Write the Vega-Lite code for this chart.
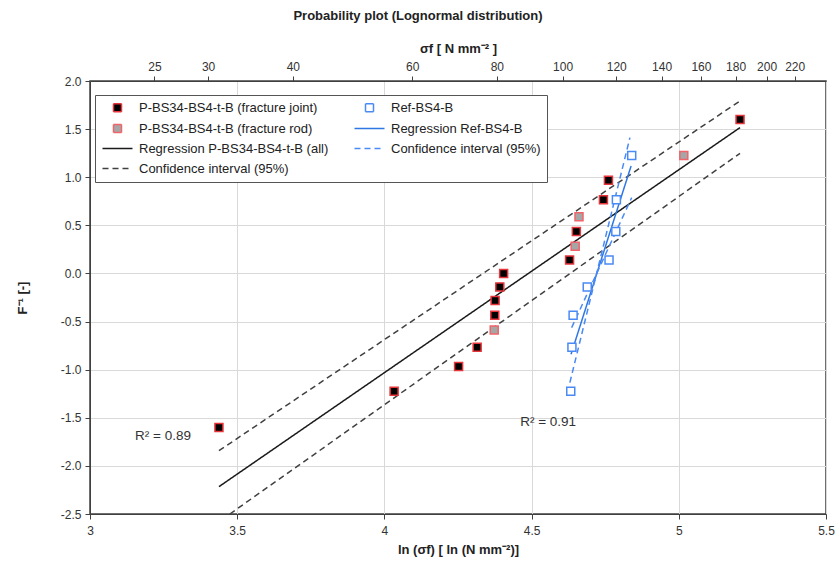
{
  "$schema": "https://vega.github.io/schema/vega-lite/v6.json",
  "width": 736,
  "height": 433,
  "autosize": {"type": "none"},
  "padding": {"left": 90, "top": 81, "right": 11, "bottom": 48},
  "title": {"text": "Probability plot (Lognormal distribution)", "font": "Liberation Sans", "fontSize": 13, "fontWeight": "bold", "color": "#222222", "offset": 19, "dx": -40},
  "config": {
    "font": "Liberation Sans",
    "view": {"stroke": "#404040", "strokeWidth": 1.5},
    "axis": {"labelFont": "Liberation Sans", "labelFontSize": 12, "labelColor": "#333333", "titleFont": "Liberation Sans", "titleFontSize": 13, "titleFontWeight": "bold", "titleColor": "#222222", "tickColor": "#404040", "domainColor": "#404040", "gridColor": "#d9d9d9", "tickSize": 5, "labelFlush": false, "labelOverlap": false},
    "legend": {"orient": "none", "legendX": 5, "legendY": 14, "columns": 2, "strokeColor": "#555555", "fillColor": "#ffffff", "padding": 6, "labelFont": "Liberation Sans", "labelFontSize": 13, "labelColor": "#222222", "labelLimit": 400, "symbolSize": 64, "symbolStrokeWidth": 1.5, "symbolOffset": 10, "labelOffset": 15, "rowPadding": 6, "columnPadding": 22}
  },
  "datasets": {
    "pts": [
      {"x": 3.438, "y": -1.600, "series": "P-BS34-BS4-t-B (fracture joint)"},
      {"x": 4.033, "y": -1.225, "series": "P-BS34-BS4-t-B (fracture joint)"},
      {"x": 4.252, "y": -0.968, "series": "P-BS34-BS4-t-B (fracture joint)"},
      {"x": 4.315, "y": -0.767, "series": "P-BS34-BS4-t-B (fracture joint)"},
      {"x": 4.373, "y": -0.588, "series": "P-BS34-BS4-t-B (fracture rod)"},
      {"x": 4.375, "y": -0.435, "series": "P-BS34-BS4-t-B (fracture joint)"},
      {"x": 4.376, "y": -0.282, "series": "P-BS34-BS4-t-B (fracture joint)"},
      {"x": 4.392, "y": -0.140, "series": "P-BS34-BS4-t-B (fracture joint)"},
      {"x": 4.405, "y": 0.000, "series": "P-BS34-BS4-t-B (fracture joint)"},
      {"x": 4.629, "y": 0.140, "series": "P-BS34-BS4-t-B (fracture joint)"},
      {"x": 4.648, "y": 0.282, "series": "P-BS34-BS4-t-B (fracture rod)"},
      {"x": 4.652, "y": 0.435, "series": "P-BS34-BS4-t-B (fracture joint)"},
      {"x": 4.661, "y": 0.588, "series": "P-BS34-BS4-t-B (fracture rod)"},
      {"x": 4.744, "y": 0.767, "series": "P-BS34-BS4-t-B (fracture joint)"},
      {"x": 4.761, "y": 0.968, "series": "P-BS34-BS4-t-B (fracture joint)"},
      {"x": 5.017, "y": 1.225, "series": "P-BS34-BS4-t-B (fracture rod)"},
      {"x": 5.208, "y": 1.600, "series": "P-BS34-BS4-t-B (fracture joint)"},
      {"x": 4.633, "y": -1.225, "series": "Ref-BS4-B"},
      {"x": 4.637, "y": -0.767, "series": "Ref-BS4-B"},
      {"x": 4.641, "y": -0.435, "series": "Ref-BS4-B"},
      {"x": 4.689, "y": -0.140, "series": "Ref-BS4-B"},
      {"x": 4.763, "y": 0.140, "series": "Ref-BS4-B"},
      {"x": 4.786, "y": 0.435, "series": "Ref-BS4-B"},
      {"x": 4.788, "y": 0.767, "series": "Ref-BS4-B"},
      {"x": 4.840, "y": 1.225, "series": "Ref-BS4-B"}
    ],
    "lines": [
      {"x": 3.438, "y": -2.216, "series": "Regression P-BS34-BS4-t-B (all)", "seg": "a"},
      {"x": 5.208, "y": 1.516, "series": "Regression P-BS34-BS4-t-B (all)", "seg": "a"},
      {"x": 3.438, "y": -1.842, "series": "Confidence interval (95%) ", "seg": "b"},
      {"x": 5.208, "y": 1.793, "series": "Confidence interval (95%) ", "seg": "b"},
      {"x": 3.475, "y": -2.500, "series": "Confidence interval (95%) ", "seg": "c"},
      {"x": 5.208, "y": 1.249, "series": "Confidence interval (95%) ", "seg": "c"},
      {"x": 4.634, "y": -0.840, "series": "Regression Ref-BS4-B", "seg": "d"},
      {"x": 4.838, "y": 1.117, "series": "Regression Ref-BS4-B", "seg": "d"},
      {"x": 4.630, "y": -1.134, "series": "Confidence interval (95%)", "seg": "e"},
      {"x": 4.834, "y": 1.412, "series": "Confidence interval (95%)", "seg": "e"},
      {"x": 4.636, "y": -0.563, "series": "Confidence interval (95%)", "seg": "f"},
      {"x": 4.840, "y": 0.788, "series": "Confidence interval (95%)", "seg": "f"}
    ],
    "labels": [
      {"x": 3.248, "y": -1.69, "text": "R² = 0.89"},
      {"x": 4.556, "y": -1.54, "text": "R² = 0.91"}
    ]
  },
  "encoding": {
    "x": {"field": "x", "type": "quantitative", "scale": {"domain": [3, 5.5], "nice": false, "zero": false},
      "axis": {"orient": "bottom", "values": [3, 3.5, 4, 4.5, 5, 5.5], "format": "~g", "grid": true, "labelPadding": 6, "titlePadding": 7, "title": "ln (σf)  [ ln (N mm⁻²)]"}},
    "y": {"field": "y", "type": "quantitative", "scale": {"domain": [-2.5, 2], "nice": false, "zero": false},
      "axis": {"values": [-2.5, -2, -1.5, -1, -0.5, 0, 0.5, 1, 1.5, 2], "labelExpr": "replace(format(datum.value, '.1f'), '−', '-')", "grid": true, "labelPadding": 4, "titlePadding": 31, "title": "F⁻¹ [-]"}}
  },
  "layer": [
    {
      "data": {"name": "lines"},
      "mark": {"type": "line", "strokeWidth": 1.5, "clip": true},
      "encoding": {
        "x": {"field": "x", "type": "quantitative", "scale": {"domain": [3, 5.5], "nice": false, "zero": false},
          "axis": {"orient": "top", "values": [3.2189, 3.4012, 3.6889, 4.0943, 4.382, 4.6052, 4.7875, 4.9416, 5.0752, 5.193, 5.2983, 5.3936], "labelExpr": "format(exp(datum.value), '.0f')", "grid": false, "labelPadding": 3, "titlePadding": 5, "title": "σf [ N mm⁻² ]"}},
        "stroke": {"field": "series", "type": "nominal", "legend": {"title": null},
          "scale": {"domain": ["P-BS34-BS4-t-B (fracture joint)", "P-BS34-BS4-t-B (fracture rod)", "Regression P-BS34-BS4-t-B (all)", "Confidence interval (95%) ", "Ref-BS4-B", "Regression Ref-BS4-B", "Confidence interval (95%)"],
            "range": ["#e8353b", "#f0646a", "#1a1a1a", "#404040", "#4a8af4", "#2f78e4", "#4a8af4"]}},
        "strokeDash": {"field": "series", "type": "nominal", "legend": {"title": null},
          "scale": {"domain": ["P-BS34-BS4-t-B (fracture joint)", "P-BS34-BS4-t-B (fracture rod)", "Regression P-BS34-BS4-t-B (all)", "Confidence interval (95%) ", "Ref-BS4-B", "Regression Ref-BS4-B", "Confidence interval (95%)"],
            "range": [[1, 0], [1, 0], [1, 0], [6, 4], [1, 0], [1, 0], [6, 4]]}},
        "detail": {"field": "seg", "type": "nominal"}
      }
    },
    {
      "data": {"name": "pts"},
      "mark": {"type": "point", "filled": true, "opacity": 1, "size": 64, "strokeWidth": 1.5},
      "encoding": {
        "fill": {"field": "series", "type": "nominal", "legend": {"title": null},
          "scale": {"domain": ["P-BS34-BS4-t-B (fracture joint)", "P-BS34-BS4-t-B (fracture rod)", "Regression P-BS34-BS4-t-B (all)", "Confidence interval (95%) ", "Ref-BS4-B", "Regression Ref-BS4-B", "Confidence interval (95%)"],
            "range": ["#000000", "#a6a6a6", "transparent", "transparent", "#ffffff", "transparent", "transparent"]}},
        "stroke": {"field": "series", "type": "nominal", "legend": {"title": null},
          "scale": {"domain": ["P-BS34-BS4-t-B (fracture joint)", "P-BS34-BS4-t-B (fracture rod)", "Regression P-BS34-BS4-t-B (all)", "Confidence interval (95%) ", "Ref-BS4-B", "Regression Ref-BS4-B", "Confidence interval (95%)"],
            "range": ["#e8353b", "#f0646a", "#1a1a1a", "#404040", "#4a8af4", "#2f78e4", "#4a8af4"]}},
        "shape": {"field": "series", "type": "nominal", "legend": {"title": null},
          "scale": {"domain": ["P-BS34-BS4-t-B (fracture joint)", "P-BS34-BS4-t-B (fracture rod)", "Regression P-BS34-BS4-t-B (all)", "Confidence interval (95%) ", "Ref-BS4-B", "Regression Ref-BS4-B", "Confidence interval (95%)"],
            "range": ["square", "square", "M-3.75,0H3.75", "M-3.75,0H3.75", "square", "M-3.75,0H3.75", "M-3.75,0H3.75"]}}
      }
    },
    {
      "data": {"name": "labels"},
      "mark": {"type": "text", "font": "Liberation Sans", "fontSize": 13.5, "color": "#333333"},
      "encoding": {
        "x": {"field": "x", "type": "quantitative", "scale": {"domain": [3, 5.5], "nice": false, "zero": false}, "axis": null},
        "text": {"field": "text", "type": "nominal"}
      }
    }
  ],
  "resolve": {"axis": {"x": "independent"}}
}
